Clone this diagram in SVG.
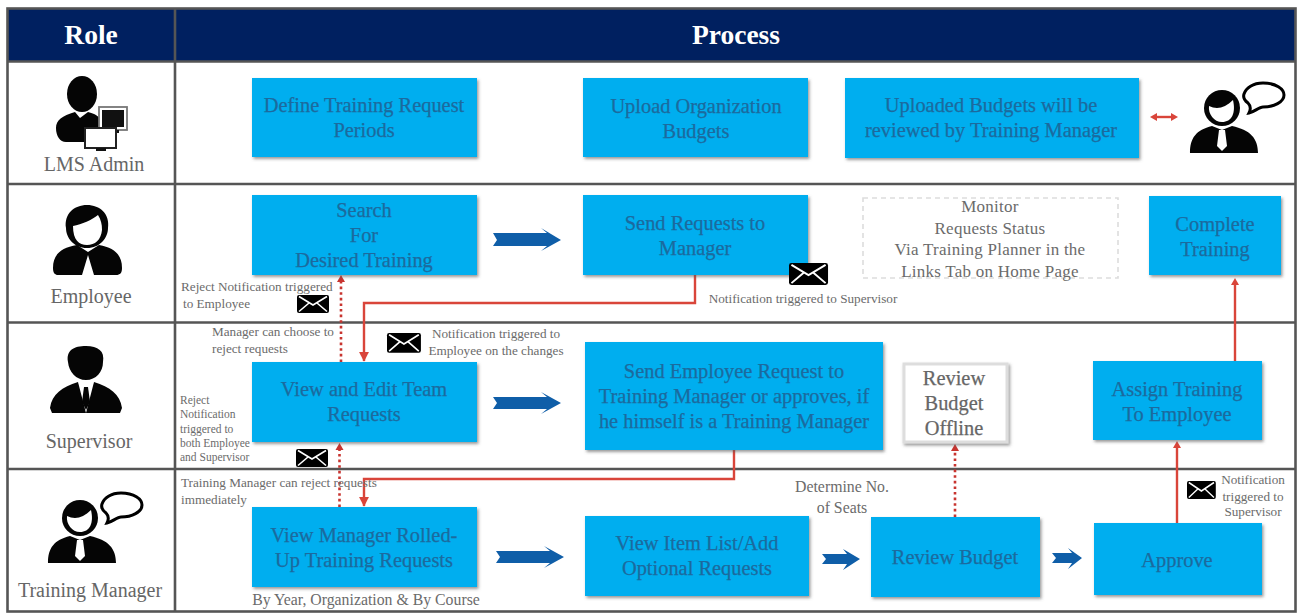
<svg xmlns="http://www.w3.org/2000/svg" xmlns:xlink="http://www.w3.org/1999/xlink" width="1298" height="614" viewBox="0 0 1298 614">
<style>
text{font-family:"Liberation Serif","Times New Roman",serif;text-anchor:middle}
.box{fill:#00aeef;filter:url(#sh)}
.bt{fill:#1c6a9e;font-size:20.4px;stroke:#1c6a9e;stroke-width:.25px}
.gt{fill:#666;stroke:#666}
.head{fill:#fff;font-size:27.500px;font-weight:bold}
.role{fill:#666;font-size:20px}
.note{fill:#6b6b6b;font-size:13.2px}
.small{font-size:11.500px}
.big{font-size:15.8px}
.st{text-anchor:start}
.mon{fill:#6b6b6b;font-size:17px;letter-spacing:.25px}
.solid{fill:none;stroke:#d9453a;stroke-width:2.4}
.dot{fill:none;stroke:#c8342f;stroke-width:2.6;stroke-dasharray:2.6 3}
.bar{fill:none;stroke:#555;stroke-width:2.6}
.ba{fill:#0f5ea8}
.ink{fill:#050505}
.hr{fill:#c8342f}
.hs{fill:#d9453a}
</style>
<defs>
<filter id="sh" x="-5%" y="-5%" width="112%" height="115%"><feDropShadow dx="1.500" dy="2" stdDeviation="1.400" flood-color="#555" flood-opacity=".6"/></filter>
<marker id="ah" markerWidth="10" markerHeight="10" refX="5.500" refY="3" orient="auto" markerUnits="userSpaceOnUse" viewBox="0 0 6 6"><path d="M0 0L6 3L0 6z" fill="#d9453a"/></marker>
<g id="env"><rect x="0" y="0" width="32" height="18" rx="2" fill="#000"/><path d="M2 1.500L16 10L30 1.500M2 16.500L12 8M30 16.500L20 8" fill="none" stroke="#fff" stroke-width="1.600"/></g>
<g id="tm">
<path class="ink" d="M1190 153C1190 138 1196 130 1212 126L1222 130L1232 126C1250 130 1258 138 1258 153z"/>
<path fill="#fff" d="M1219 130H1225L1227 146L1222 151L1217 146z"/>
<circle class="ink" cx="1222" cy="108" r="18"/>
<path fill="#fff" d="M1209 106C1217 110 1225 108 1233 100C1236 113 1232 122 1222 122C1214 122 1208 114 1209 106z"/>
<path fill="#fff" stroke="#000" stroke-width="3" d="M1263 83C1276 83 1284 89 1284 95C1284 102 1274 107 1263 107C1259 107 1254 112 1249 113C1251 109 1251 106 1248 103C1244 100 1243 97 1244 94C1246 88 1253 83 1263 83z"/>
</g>
</defs>
<rect width="1298" height="614" fill="#fff"/>

<g id="table">
<rect x="8" y="9" width="1287" height="52" fill="#002060"/>
<rect x="7.500" y="8.500" width="1288" height="603" fill="none" stroke="#555" stroke-width="2.600"/>
<path class="bar" d="M175 9V612M8 61.500H1295M8 184H1295M8 322.500H1295M8 469H1295"/>
<text class="head" x="91" y="44">Role</text>
<text class="head" x="736" y="44">Process</text>
</g>

<g id="role-lms-admin">
<path class="ink" d="M56 128C56 120 62 116 75 112L80 118L88 112C95 114 99 116 100 120V142H66C60 142 56 136 56 128z"/>
<ellipse class="ink" cx="82" cy="94" rx="15" ry="18"/>
<rect x="99" y="107" width="28" height="23" fill="#fff" stroke="#777" stroke-width="1.800"/>
<rect x="102" y="110" width="22" height="17" fill="#111"/>
<rect x="107" y="130" width="12" height="3" fill="#111"/>
<rect x="85" y="128" width="31" height="20" fill="#fff" stroke="#222" stroke-width="2"/>
<rect x="96" y="148" width="10" height="3" fill="#111"/>
<text class="role" x="94" y="171">LMS Admin</text>
</g>
<g id="role-employee">
<path class="ink" d="M53 268C53 255 60 248 77 245L88 252L99 245C115 248 122 255 122 268C122 273 120 275 116 275H94L88 255L82 275H58C55 275 53 273 53 268z"/>
<path class="ink" d="M66 228C64 214 74 205 87 205C100 205 110 214 108 228C108 238 100 248 87 248C74 248 66 238 66 228z"/>
<path fill="#fff" d="M73 226C82 224 92 220 98 215C101 220 102 224 102 230C101 240 95 245 87 245C79 245 73 240 73 226z"/>
<text class="role" x="91" y="303">Employee</text>
</g>
<g id="role-supervisor">
<path class="ink" d="M50 408C52 394 62 387 78 382L86 396L94 382C110 387 120 394 122 408L120 413H52z"/>
<path fill="#fff" d="M78 382L86 413L94 382L86 386z"/>
<path class="ink" d="M84 387H88L90 402L86 410L82 402z"/>
<path class="ink" d="M68 362C66 350 74 346 86 346C98 346 105 351 103 362C103 372 96 380 86 380C76 380 69 372 68 362z"/>
<text class="role" x="89" y="448">Supervisor</text>
</g>
<g id="role-training-manager">
<use href="#tm" xlink:href="#tm" transform="translate(-1142 410)"/>
<text class="role" x="90" y="597">Training Manager</text>
</g>
<g id="reviewer-icon"><use href="#tm" xlink:href="#tm"/></g>

<g id="connectors">
<path class="solid" marker-end="url(#ah)" d="M695 275V303H364V361"/>
<path class="solid" marker-end="url(#ah)" d="M734 450V479H364V506"/>
<path class="dot" d="M341 362V281"/><path class="hr" d="M337 282L341 275L345 282z"/>
<path class="dot" d="M339.500 507V449"/><path class="hr" d="M335.500 450L339.500 443L343.500 450z"/>
<path class="dot" d="M955 517V450"/><path class="hr" d="M951 451L955 444L959 451z"/>
<path class="solid" d="M1177 523V447"/><path class="hs" d="M1173 448L1177 441L1181 448z"/>
<path class="solid" d="M1235 361V284"/><path class="hs" d="M1231 285L1235 278L1239 285z"/>
<path class="solid" d="M1156 117H1172"/><path class="hs" d="M1157 113L1150 117L1157 121zM1171 113L1178 117L1171 121z"/>
<path class="ba" d="M493 233H547L541 228L561 240L541 251L547 246H493L497 240z"/>
<path class="ba" d="M493 397H547L541 392L561 403L541 414L547 409H493L497 403z"/>
<path class="ba" d="M496 551H550L544 546L564 557L544 568L550 563H496L500 557z"/>
<path class="ba" d="M822 554H847L843 549L860 559L843 570L847 564H822L826 559z"/>
<path class="ba" d="M1052 553H1072L1068 548L1082 558L1068 569L1072 563H1052L1056 558z"/>
</g>

<g id="n-define"><rect class="box" x="252" y="78" width="225" height="79"/><text class="bt" x="364" y="112">Define Training Request</text><text class="bt" x="364" y="137">Periods</text></g>
<g id="n-upload"><rect class="box" x="583" y="78" width="225" height="79"/><text class="bt" x="696" y="113">Upload Organization</text><text class="bt" x="696" y="138">Budgets</text></g>
<g id="n-uploaded"><rect class="box" x="845" y="78" width="294" height="80"/><text class="bt" x="991" y="112">Uploaded Budgets will be</text><text class="bt" x="991" y="137">reviewed by Training Manager</text></g>
<g id="n-search"><rect class="box" x="252" y="195" width="225" height="80"/><text class="bt" x="364" y="217">Search</text><text class="bt" x="364" y="242">For</text><text class="bt" x="364" y="267">Desired Training</text></g>
<g id="n-send"><rect class="box" x="583" y="195" width="225" height="80"/><text class="bt" x="695" y="230">Send Requests to</text><text class="bt" x="695" y="255">Manager</text></g>
<g id="n-monitor"><rect x="863" y="198" width="255" height="80" fill="#fff" stroke="#ddd" stroke-width="1.600" stroke-dasharray="5 4"/><text class="mon" x="990" y="212">Monitor</text><text class="mon" x="990" y="234">Requests Status</text><text class="mon" x="990" y="255">Via Training Planner in the</text><text class="mon" x="990" y="277">Links Tab on Home Page</text></g>
<g id="n-complete"><rect class="box" x="1149" y="196" width="132" height="79"/><text class="bt" x="1215" y="231">Complete</text><text class="bt" x="1215" y="256">Training</text></g>
<g id="n-view-edit"><rect class="box" x="252" y="362" width="225" height="80"/><text class="bt" x="364" y="396">View and Edit Team</text><text class="bt" x="364" y="421">Requests</text></g>
<g id="n-send-employee"><rect class="box" x="585" y="342" width="298" height="108"/><text class="bt" x="734" y="378">Send Employee Request to</text><text class="bt" x="734" y="403">Training Manager or approves, if</text><text class="bt" x="734" y="428">he himself is a Training Manager</text></g>
<g id="n-offline"><rect x="904" y="364" width="103" height="78" fill="#fff" stroke="#ddd" stroke-width="3" filter="url(#sh)"/><text class="bt gt" x="954" y="385">Review</text><text class="bt gt" x="954" y="410">Budget</text><text class="bt gt" x="954" y="435">Offline</text></g>
<g id="n-assign"><rect class="box" x="1093" y="361" width="169" height="79"/><text class="bt" x="1177" y="396">Assign Training</text><text class="bt" x="1177" y="421">To Employee</text></g>
<g id="n-view-manager"><rect class="box" x="252" y="507" width="225" height="80"/><text class="bt" x="364" y="542">View Manager Rolled-</text><text class="bt" x="364" y="567">Up Training Requests</text></g>
<g id="n-view-item"><rect class="box" x="585" y="516" width="224" height="80"/><text class="bt" x="697" y="550">View Item List/Add</text><text class="bt" x="697" y="575">Optional Requests</text></g>
<g id="n-review"><rect class="box" x="871" y="517" width="169" height="80"/><text class="bt" x="955" y="564">Review Budget</text></g>
<g id="n-approve"><rect class="box" x="1094" y="523" width="168" height="72"/><text class="bt" x="1177" y="567">Approve</text></g>

<g id="notes">
<text class="note st" x="181" y="291">Reject Notification triggered</text>
<text class="note st" x="183" y="308">to Employee</text>
<use href="#env" xlink:href="#env" x="297" y="295"/>
<text class="note st" x="212" y="336">Manager can choose to</text>
<text class="note st" x="212" y="353">reject requests</text>
<use href="#env" xlink:href="#env" transform="translate(387 333) scale(1.06 1.1)"/>
<text class="note" x="496" y="338">Notification triggered to</text>
<text class="note" x="496" y="355">Employee on the changes</text>
<text class="note" x="803" y="303">Notification triggered to Supervisor</text>
<use href="#env" xlink:href="#env" transform="translate(789 263) scale(1.22 1.22)"/>
<text class="note st small" x="180" y="404">Reject</text>
<text class="note st small" x="180" y="418">Notification</text>
<text class="note st small" x="180" y="433">triggered to</text>
<text class="note st small" x="180" y="447">both Employee</text>
<text class="note st small" x="180" y="461">and Supervisor</text>
<use href="#env" xlink:href="#env" x="296" y="449"/>
<text class="note st" x="181" y="487">Training Manager can reject requests</text>
<text class="note st" x="181" y="504">immediately</text>
<text class="note big" x="366" y="605">By Year, Organization &amp; By  Course</text>
<text class="note big" x="842" y="492">Determine No.</text>
<text class="note big" x="842" y="513">of Seats</text>
<use href="#env" xlink:href="#env" transform="translate(1187 481) scale(.9 1)"/>
<text class="note" x="1253" y="484">Notification</text>
<text class="note" x="1253" y="501">triggered to</text>
<text class="note" x="1253" y="516">Supervisor</text>
</g>
</svg>
